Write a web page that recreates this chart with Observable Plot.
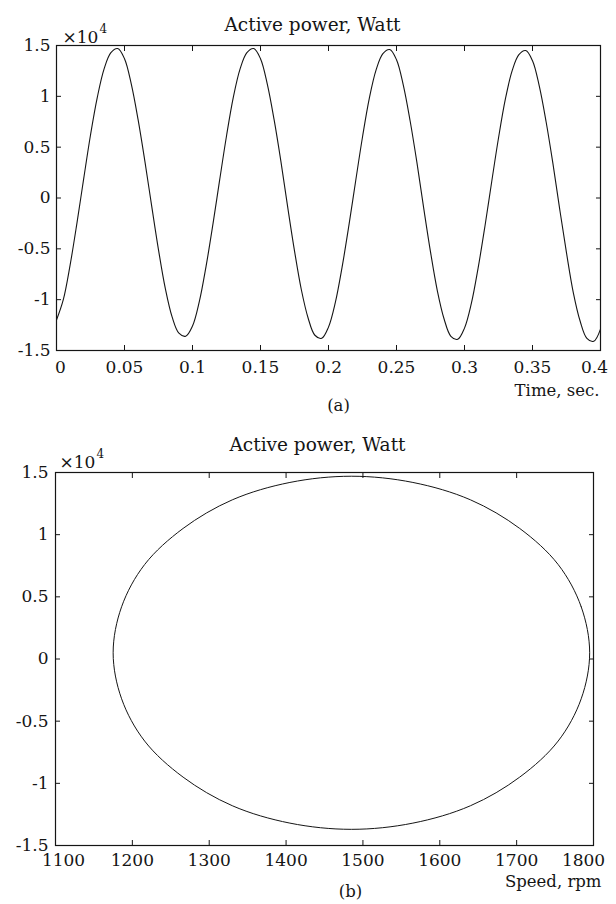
<!DOCTYPE html>
<html>
<head>
<meta charset="utf-8">
<script src="https://cdn.jsdelivr.net/npm/d3@7"></script>
<script src="https://cdn.jsdelivr.net/npm/@observablehq/plot@0.6"></script>
<style>
html, body { margin: 0; padding: 0; background: #fff; }
#chart { width: 616px; height: 904px; }
#chart svg { display: block; }
</style>
</head>
<body>
<div id="chart"></div>
<script>
// ---------- Data ----------
// (a) Active power vs time
const timeSec = [
  0, 0.005, 0.01, 0.015, 0.02, 0.025, 0.03, 0.035, 0.04, 0.045,
  0.05, 0.055, 0.06, 0.065, 0.07, 0.075, 0.08, 0.085, 0.09, 0.095,
  0.1, 0.105, 0.11, 0.115, 0.12, 0.125, 0.13, 0.135, 0.14, 0.145,
  0.15, 0.155, 0.16, 0.165, 0.17, 0.175, 0.18, 0.185, 0.19, 0.195,
  0.2, 0.205, 0.21, 0.215, 0.22, 0.225, 0.23, 0.235, 0.24, 0.245,
  0.25, 0.255, 0.26, 0.265, 0.27, 0.275, 0.28, 0.285, 0.29, 0.295,
  0.3, 0.305, 0.31, 0.315, 0.32, 0.325, 0.33, 0.335, 0.34, 0.345,
  0.35, 0.355, 0.36, 0.365, 0.37, 0.375, 0.38, 0.385, 0.39, 0.395,
  0.4
];
const powerTimeW = [
  -12000, -10000, -6600, -2500, 1900, 6200, 9900, 12700, 14300, 14700,
  13700, 11200, 7700, 3600, -800, -5100, -8900, -11700, -13300, -13600,
  -12600, -10200, -6700, -2600, 1800, 6100, 9900, 12700, 14300, 14700,
  13700, 11200, 7700, 3600, -900, -5200, -9000, -11800, -13500, -13800,
  -12700, -10300, -6800, -2700, 1700, 6000, 9800, 12600, 14200, 14600,
  13600, 11100, 7600, 3500, -1000, -5300, -9100, -11900, -13600, -13900,
  -12800, -10400, -6900, -2800, 1600, 5900, 9700, 12500, 14100, 14500,
  13500, 11000, 7500, 3400, -1100, -5400, -9300, -12100, -13800, -14100,
  -12900
];

// (b) Active power vs speed (closed loop)
const speedRpm = [
  1795, 1784, 1754, 1704, 1640, 1565, 1485, 1405, 1330, 1266, 1216, 1186,
  1175, 1186, 1216, 1266, 1330, 1405, 1485, 1565, 1640, 1704, 1754, 1784
];
const powerSpeedW = [
  500, 4200, 7600, 10500, 12800, 14200, 14700, 14200, 12800, 10500, 7600, 4200,
  500, -3200, -6600, -9500, -11800, -13200, -13700, -13200, -11800, -9500, -6600, -3200
];

// Tick values
const timeTicks = [0, 0.05, 0.1, 0.15, 0.2, 0.25, 0.3, 0.35, 0.4];
const speedTicks = [1100, 1200, 1300, 1400, 1500, 1600, 1700, 1800];
const powerTicks = [-15000, -10000, -5000, 0, 5000, 10000, 15000];

// Texts
const titleText = "Active power, Watt";
const exponentBase = "×10";
const exponentPower = "4";
const xLabelA = "Time, sec.";
const xLabelB = "Speed, rpm";
const captionA = "(a)";
const captionB = "(b)";

// ---------- Build ----------
const seriesA = timeSec.map((t, i) => ({t, p: powerTimeW[i]}));
const seriesB = speedRpm.map((s, i) => ({s, p: powerSpeedW[i]}));

const fmtPower = d => String(d / 1e4);
const fmtPlain = d => String(d);
const blank = () => "";
const ink = "#151515";

const style = {
  fontFamily: "'DejaVu Serif', 'Liberation Serif', serif",
  fontSize: "17px",
  background: "white",
  color: ink,
  overflow: "visible"
};

function xAxes(ticks, fmt, dxFirst, dxLast, pad) {
  const common = {anchor: "bottom", tickSize: 0, tickPadding: pad, tickFormat: fmt, label: null};
  return [
    Plot.axisX(ticks, {anchor: "bottom", tickSize: -5, tickFormat: blank, label: null, stroke: ink}),
    Plot.axisX(ticks, {anchor: "top", tickSize: -5, tickFormat: blank, label: null, stroke: ink}),
    Plot.axisX(ticks.slice(1, -1), common),
    Plot.axisX(ticks.slice(0, 1), {...common, dx: dxFirst}),
    Plot.axisX(ticks.slice(-1), {...common, dx: dxLast})
  ];
}
function yAxes(ticks, gap) {
  return [
    Plot.axisY(ticks, {anchor: "left", tickSize: -5, tickPadding: 5 + gap, tickFormat: fmtPower, label: null, stroke: ink}),
    Plot.axisY(ticks, {anchor: "right", tickSize: -5, tickFormat: blank, label: null, stroke: ink})
  ];
}
function exponentMarks(dx, dy) {
  return [
    Plot.text([exponentBase], {frameAnchor: "top-left", textAnchor: "start", dx, dy, fontSize: 17, fill: ink}),
    Plot.text([exponentPower], {frameAnchor: "top-left", textAnchor: "start", dx: dx + 37, dy: dy - 6, fontSize: 12, fill: ink})
  ];
}

const chartA = Plot.plot({
  width: 616,
  height: 420,
  marginLeft: 56,
  marginRight: 16,
  marginTop: 45,
  marginBottom: 70,
  style,
  x: {domain: [0, 0.4]},
  y: {domain: [-15000, 15000]},
  marks: [
    Plot.frame({stroke: ink, strokeWidth: 1.2}),
    ...xAxes(timeTicks, fmtPlain, 4, -6, 10),
    ...yAxes(powerTicks, 6),
    Plot.line(seriesA, {x: "t", y: "p", curve: "catmull-rom", stroke: ink, strokeWidth: 1.1}),
    Plot.text([titleText], {frameAnchor: "top", dx: -16, dy: -28, fontSize: 18.5, fill: ink}),
    ...exponentMarks(6, -15),
    Plot.text([xLabelA], {frameAnchor: "bottom-right", textAnchor: "end", dx: -1, dy: 45, fontSize: 16.5, fill: ink}),
    Plot.text([captionA], {frameAnchor: "bottom", dx: 10, dy: 60, fontSize: 16.5, fill: ink})
  ]
});

const chartB = Plot.plot({
  width: 616,
  height: 484,
  marginLeft: 55,
  marginRight: 23,
  marginTop: 52,
  marginBottom: 59,
  style,
  x: {domain: [1100, 1800]},
  y: {domain: [-15000, 15000]},
  marks: [
    Plot.frame({stroke: ink, strokeWidth: 1.2}),
    ...xAxes(speedTicks, fmtPlain, 8, -10, 8),
    ...yAxes(powerTicks, 7),
    Plot.line(seriesB, {x: "s", y: "p", curve: "catmull-rom-closed", stroke: ink, strokeWidth: 1}),
    Plot.text([titleText], {frameAnchor: "top", dx: -7, dy: -35, fontSize: 18.5, fill: ink}),
    ...exponentMarks(4, -17),
    Plot.text([xLabelB], {frameAnchor: "bottom-right", textAnchor: "end", dx: 8, dy: 41, fontSize: 16.5, fill: ink}),
    Plot.text([captionB], {frameAnchor: "bottom", dx: 26, dy: 51, fontSize: 16.5, fill: ink})
  ]
});

const root = document.getElementById("chart");
root.appendChild(chartA);
root.appendChild(chartB);
</script>
</body>
</html>
